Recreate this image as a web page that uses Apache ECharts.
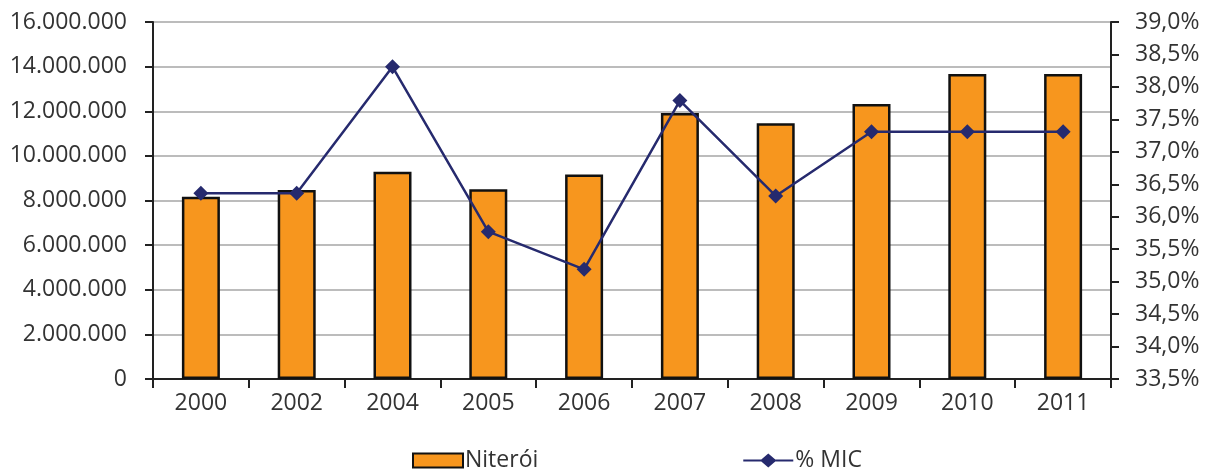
<!DOCTYPE html>
<html>
<head>
<meta charset="utf-8">
<script src="https://cdn.jsdelivr.net/npm/echarts@6/dist/echarts.min.js"></script>
<style>
  html, body { margin: 0; padding: 0; background: #fff; }
  #chart { width: 1206px; height: 470px; }
</style>
</head>
<body>
<div id="chart"></div>
<script>
var years = ['2000', '2002', '2004', '2005', '2006', '2007', '2008', '2009', '2010', '2011'];
var niteroi = [8170000, 8470000, 9290000, 8500000, 9170000, 11920000, 11460000, 12330000, 13670000, 13670000];
var micPct = [36.36, 36.36, 38.31, 35.77, 35.19, 37.79, 36.32, 37.31, 37.31, 37.31];

var chart = echarts.init(document.getElementById('chart'));

function fmtThousands(v) {
  return String(Math.round(v)).replace(/\B(?=(\d{3})+(?!\d))/g, '.');
}

var font = '"Open Sans", "Noto Sans", sans-serif';
var lineIcon = 'path://M0,6 L18,6 L25,0 L32,6 L50,6 L50,8 L32,8 L25,14 L18,8 L0,8 Z';

var option = {
  backgroundColor: '#fff',
  animation: false,
  textStyle: { fontFamily: font },
  grid: { left: 153, right: 95, top: 22, bottom: 91 },
  legend: {
    top: 444,
    left: 407,
    itemGap: 205,
    itemWidth: 50,
    itemHeight: 14,
    textStyle: { fontSize: 23, color: '#333', fontFamily: font, padding: [0, 0, 0, -3] },
    data: [
      { name: 'Niterói', icon: 'rect' },
      { name: '% MIC', icon: lineIcon }
    ]
  },
  xAxis: {
    type: 'category',
    data: years,
    axisLine: { lineStyle: { color: '#222', width: 2 } },
    axisTick: { show: true, length: 9, lineStyle: { color: '#222', width: 2 } },
    axisLabel: { fontSize: 23, color: '#333', margin: 13 }
  },
  yAxis: [
    {
      type: 'value',
      min: 0,
      max: 16000000,
      interval: 2000000,
      axisLine: { show: true, lineStyle: { color: '#222', width: 2 } },
      axisTick: { show: true, length: 8, lineStyle: { color: '#222', width: 2 } },
      axisLabel: { fontSize: 23, color: '#333', margin: 26, formatter: fmtThousands },
      splitLine: { show: true, lineStyle: { color: '#a6a6a6', width: 1.5 } }
    },
    {
      type: 'value',
      min: 33.5,
      max: 39,
      interval: 0.5,
      position: 'right',
      axisLine: { show: true, lineStyle: { color: '#222', width: 2 } },
      axisTick: { show: true, length: 8, lineStyle: { color: '#222', width: 2 } },
      axisLabel: {
        fontSize: 23, color: '#333', margin: 24,
        formatter: function (v) { return v.toFixed(1).replace('.', ',') + '%'; }
      },
      splitLine: { show: false }
    }
  ],
  series: [
    {
      name: 'Niterói',
      type: 'bar',
      data: niteroi,
      barWidth: 38,
      itemStyle: { color: '#f7961e', borderColor: '#111', borderWidth: 2.5 }
    },
    {
      name: '% MIC',
      type: 'line',
      yAxisIndex: 1,
      data: micPct,
      symbol: 'diamond',
      symbolSize: 15,
      lineStyle: { color: '#262a6e', width: 2.5 },
      itemStyle: { color: '#262a6e' }
    }
  ]
};

chart.setOption(option);
</script>
</body>
</html>
